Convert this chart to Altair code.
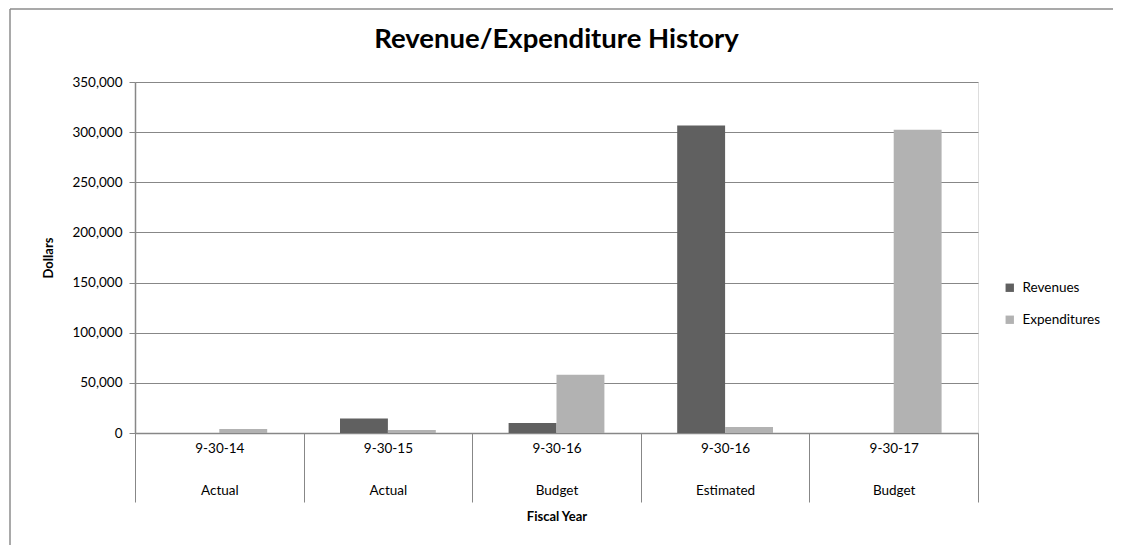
import altair as alt
import pandas as pd

categories = ["9-30-14|Actual", "9-30-15|Actual", "9-30-16|Budget", "9-30-16|Estimated", "9-30-17|Budget"]
series = ["Revenues", "Expenditures"]
revenues = [0, 14500, 10000, 306500, 0]
expenditures = [4000, 3000, 58000, 6000, 302500]
y_ticks = [0, 50000, 100000, 150000, 200000, 250000, 300000, 350000]

rows = []
for c, r, e in zip(categories, revenues, expenditures):
    rows.append({"cat": c, "series": "Revenues", "value": r})
    rows.append({"cat": c, "series": "Expenditures", "value": e})
df = pd.DataFrame(rows)

FONT = "Lato"
GRAY = "#878787"

bars = alt.Chart(df).mark_bar().encode(
    x=alt.X("cat:N", sort=categories,
            scale=alt.Scale(paddingInner=0, paddingOuter=0),
            axis=alt.Axis(title="Fiscal Year", tickBand="extent", tickSize=69,
                          tickColor=GRAY, domainColor=GRAY, domainWidth=1.5,
                          labelExpr="split(datum.label, '|')", labelAngle=0,
                          labelLineHeight=42, labelPadding=-61, labelFontSize=13.5,
                          labelColor="#000000", labelFont=FONT, labelBaseline="top",
                          labelOverlap=False, labelBound=False, labelFlush=False,
                          titleFont=FONT, titleFontSize=13, titleFontWeight="bold",
                          titleColor="#000000", titleY=83, titleBaseline="middle")),
    xOffset=alt.XOffset("series:N", sort=series,
                        scale=alt.Scale(paddingInner=0, paddingOuter=0.76)),
    y=alt.Y("value:Q", scale=alt.Scale(domain=[0, 350000], nice=False),
            axis=alt.Axis(title="Dollars", values=y_ticks, format=",d",
                          tickSize=6, tickColor=GRAY, domainColor=GRAY, domainWidth=1.5,
                          gridColor=GRAY, gridWidth=1,
                          labelFontSize=13.5, labelFont=FONT, labelColor="#000000",
                          labelPadding=7,
                          titleFont=FONT, titleFontSize=13, titleFontWeight="bold",
                          titleColor="#000000", titleX=-87, titleY=175.5,
                          titleAngle=270, titleBaseline="middle", titleAlign="center")),
    color=alt.Color("series:N", sort=series,
                    scale=alt.Scale(domain=series, range=["#606060", "#b2b2b2"]),
                    legend=alt.Legend(title=None, orient="none", legendX=868, legendY=199,
                                      symbolType="square", symbolSize=70,
                                      symbolStrokeWidth=0, labelFontSize=13.5,
                                      labelFont=FONT, labelColor="#000000",
                                      rowPadding=17, labelOffset=6)),
)

frame_df = pd.DataFrame({"f": [0]})
frame_top = alt.Chart(frame_df).mark_rule(stroke="#8c8c8c", strokeWidth=1.5, clip=False).encode(
    x=alt.value(-125), x2=alt.value(1000), y=alt.value(-73))
frame_left = alt.Chart(frame_df).mark_rule(stroke="#8c8c8c", strokeWidth=1.5, clip=False).encode(
    x=alt.value(-125), y=alt.value(-73), y2=alt.value(480))

chart = alt.layer(frame_top, frame_left, bars).properties(
    width=843, height=351,
    autosize=alt.AutoSizeParams(type="none"),
    padding={"left": 127, "top": 74, "right": 135, "bottom": 112},
    title=alt.Title("Revenue/Expenditure History", fontSize=27.5, font=FONT,
                    fontWeight="bold", color="#000000", anchor="middle",
                    baseline="alphabetic", offset=0, dy=67),
).configure_view(stroke=None).configure(background="white")

chart.save("out.html", embed_options={"renderer": "svg", "actions": False})
